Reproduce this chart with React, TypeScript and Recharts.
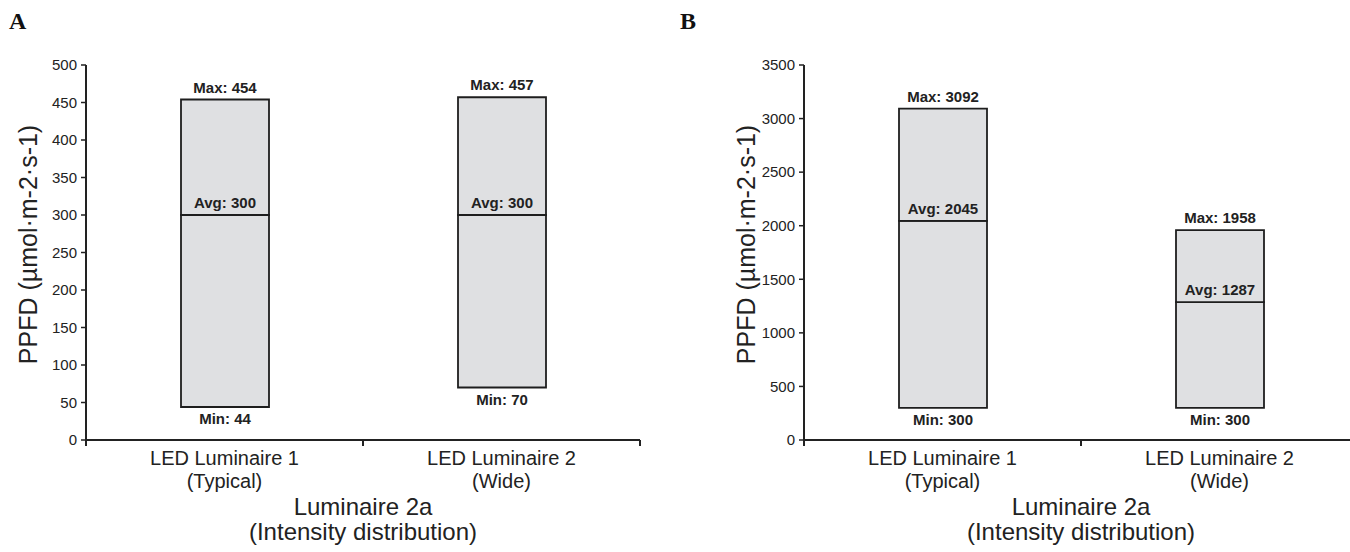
import React from 'react'
import { BarChart, Bar, XAxis, YAxis, LabelList } from 'recharts'

const categories = ['LED Luminaire 1\n(Typical)', 'LED Luminaire 2\n(Wide)']

const minA = [44, 70]
const avgA = [300, 300]
const maxA = [454, 457]
const ticksA = [0, 50, 100, 150, 200, 250, 300, 350, 400, 450, 500]

const minB = [300, 300]
const avgB = [2045, 1287]
const maxB = [3092, 1958]
const ticksB = [0, 500, 1000, 1500, 2000, 2500, 3000, 3500]

const CHART_W = 660
const CHART_H = 552
const AXIS_W = 86
const MARGIN = { top: 65, right: 20, left: 0, bottom: 0 }
const PLOT_W = CHART_W - MARGIN.left - MARGIN.right - AXIS_W
const INK = '#222222'
const FILL = '#dfe0e2'
const FONT = '"Liberation Sans", Arial, sans-serif'

const buildRows = (mins: number[], avgs: number[], maxs: number[]) =>
  categories.map((name, i) => ({
    name,
    min: mins[i],
    avg: avgs[i],
    max: maxs[i],
    base: mins[i],
    lower: avgs[i] - mins[i],
    upper: maxs[i] - avgs[i]
  }))

// category labels + tick marks sitting between the categories
const CategoryTick = (props: any) => {
  const { x, y, payload, index } = props
  const band = PLOT_W / categories.length
  const lines = String(payload.value).split('\n')
  return (
    <g>
      {index === 0 && (
        <line x1={x - band / 2} x2={x - band / 2} y1={y} y2={y + 6} stroke={INK} strokeWidth={2} />
      )}
      <line x1={x + band / 2} x2={x + band / 2} y1={y} y2={y + 6} stroke={INK} strokeWidth={2} />
      <text x={x} y={y} textAnchor="middle" fontSize={20} fill={INK} fontFamily={FONT}>
        {lines.map((l, i) => (
          <tspan key={i} x={x} dy={i === 0 ? 25 : 23}>{l}</tspan>
        ))}
      </text>
    </g>
  )
}

const XTitle = (props: any) => {
  const vb = props.viewBox
  const cx = vb.x + vb.width / 2
  return (
    <text textAnchor="middle" fontSize={24} fill={INK} fontFamily={FONT}>
      <tspan x={cx} y={vb.y + 75}>Luminaire 2a</tspan>
      <tspan x={cx} y={vb.y + 100}>(Intensity distribution)</tspan>
    </text>
  )
}

const YTitle = (props: any) => {
  const vb = props.viewBox
  const cy = vb.y + vb.height / 2 - 8
  const x = 37
  return (
    <text
      x={x}
      y={cy}
      transform={`rotate(-90 ${x} ${cy})`}
      textAnchor="middle"
      fontSize={25}
      fill={INK}
      fontFamily={FONT}
    >
      PPFD (µmol·m-2·s-1)
    </text>
  )
}

const barLabel = (prefix: string, where: 'top' | 'bottom') => (props: any) => {
  const { x, y, width, height, value } = props
  const ty = where === 'top' ? y - 7 : y + height + 17
  return (
    <text
      x={x + width / 2}
      y={ty}
      textAnchor="middle"
      fontSize={15}
      fontWeight="bold"
      fill={INK}
      fontFamily={FONT}
    >
      {`${prefix}: ${value}`}
    </text>
  )
}

function RangePanel({ data, ticks, top }: { data: any[]; ticks: number[]; top: number }) {
  return (
    <BarChart width={CHART_W} height={CHART_H} data={data} margin={MARGIN} barSize={88}>
      <XAxis
        dataKey="name"
        interval={0}
        tick={<CategoryTick />}
        tickLine={false}
        tickSize={0}
        tickMargin={0}
        height={112}
        axisLine={{ stroke: INK, strokeWidth: 2 }}
        label={{ content: <XTitle /> }}
      />
      <XAxis
        xAxisId="top"
        orientation="top"
        dataKey="name"
        tick={false}
        tickLine={false}
        height={0}
        axisLine={{ stroke: INK, strokeWidth: 2 }}
      />
      <YAxis
        width={AXIS_W}
        domain={[0, top]}
        ticks={ticks}
        interval={0}
        tick={{ fill: INK, fontSize: 15, fontFamily: FONT }}
        tickSize={5}
        tickMargin={4}
        tickLine={{ stroke: INK, strokeWidth: 1.5 }}
        axisLine={{ stroke: INK, strokeWidth: 2 }}
        label={{ content: <YTitle /> }}
      />
      <YAxis
        yAxisId="right"
        orientation="right"
        width={0}
        domain={[0, top]}
        tick={false}
        tickLine={false}
        axisLine={{ stroke: INK, strokeWidth: 1.5 }}
      />
      <Bar dataKey="base" stackId="r" fill="transparent" stroke="none" isAnimationActive={false} />
      <Bar dataKey="lower" stackId="r" fill={FILL} stroke="#1e1e1e" strokeWidth={1.8} isAnimationActive={false}>
        <LabelList dataKey="avg" content={barLabel('Avg', 'top')} />
        <LabelList dataKey="min" content={barLabel('Min', 'bottom')} />
      </Bar>
      <Bar dataKey="upper" stackId="r" fill={FILL} stroke="#1e1e1e" strokeWidth={1.8} isAnimationActive={false}>
        <LabelList dataKey="max" content={barLabel('Max', 'top')} />
      </Bar>
    </BarChart>
  )
}

const panelLetter: React.CSSProperties = {
  position: 'absolute',
  top: 9,
  fontFamily: '"Liberation Serif", "Times New Roman", serif',
  fontWeight: 'bold',
  fontSize: 24,
  lineHeight: '24px',
  color: '#111'
}

export default function App() {
  const dataA = buildRows(minA, avgA, maxA)
  const dataB = buildRows(minB, avgB, maxB)
  return (
    <div
      style={{
        position: 'absolute',
        left: 0,
        top: 0,
        width: 1350,
        height: 552,
        overflow: 'hidden',
        background: '#fff'
      }}
    >
      <div style={{ ...panelLetter, left: 9 }}>A</div>
      <div style={{ ...panelLetter, left: 680 }}>B</div>
      <div style={{ position: 'absolute', left: 0, top: 0 }}>
        <RangePanel data={dataA} ticks={ticksA} top={500} />
      </div>
      <div style={{ position: 'absolute', left: 718, top: 0 }}>
        <RangePanel data={dataB} ticks={ticksB} top={3500} />
      </div>
    </div>
  )
}
